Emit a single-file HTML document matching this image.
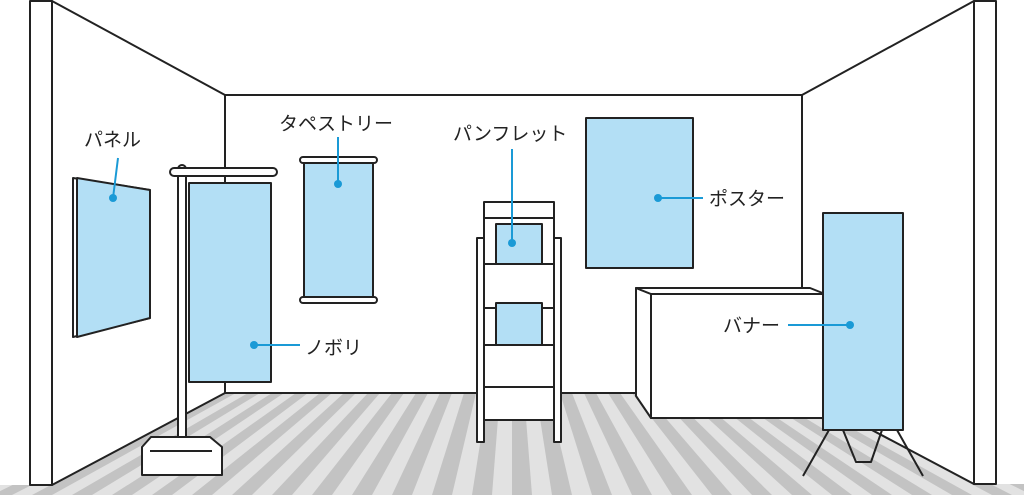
<!DOCTYPE html>
<html><head><meta charset="utf-8"><style>
html,body{margin:0;padding:0;background:#fff}
svg{display:block}
text{font-family:"Liberation Sans","Noto Sans CJK JP",sans-serif;font-size:19px;fill:#222}
</style></head><body>
<svg width="1024" height="495" viewBox="0 0 1024 495" xmlns="http://www.w3.org/2000/svg">
<defs><clipPath id="fl"><polygon points="225,393 802,393 974,484 1024,484 1024,495 0,495 0,485 52,485"/></clipPath></defs>
<rect width="1024" height="495" fill="#fff"/>
<g clip-path="url(#fl)">
<rect x="0" y="380" width="1024" height="115" fill="#e2e2e2"/>
<g fill="#c3c3c3">
<polygon points="176,393 188,393 -28,495 -48,495"/>
<polygon points="200,393 212,393 12,495 -8,495"/>
<polygon points="224,393 236,393 52,495 32,495"/>
<polygon points="248,393 260,393 92,495 72,495"/>
<polygon points="272,393 284,393 132,495 112,495"/>
<polygon points="296,393 308,393 172,495 152,495"/>
<polygon points="320,393 332,393 212,495 192,495"/>
<polygon points="344,393 356,393 252,495 232,495"/>
<polygon points="368,393 380,393 292,495 272,495"/>
<polygon points="392,393 404,393 332,495 312,495"/>
<polygon points="416,393 428,393 372,495 352,495"/>
<polygon points="440,393 452,393 412,495 392,495"/>
<polygon points="464,393 476,393 452,495 432,495"/>
<polygon points="488,393 500,393 492,495 472,495"/>
<polygon points="512,393 524,393 532,495 512,495"/>
<polygon points="536,393 548,393 572,495 552,495"/>
<polygon points="560,393 572,393 612,495 592,495"/>
<polygon points="584,393 596,393 652,495 632,495"/>
<polygon points="608,393 620,393 692,495 672,495"/>
<polygon points="632,393 644,393 732,495 712,495"/>
<polygon points="656,393 668,393 772,495 752,495"/>
<polygon points="680,393 692,393 812,495 792,495"/>
<polygon points="704,393 716,393 852,495 832,495"/>
<polygon points="728,393 740,393 892,495 872,495"/>
<polygon points="752,393 764,393 932,495 912,495"/>
<polygon points="776,393 788,393 972,495 952,495"/>
<polygon points="800,393 812,393 1012,495 992,495"/>
<polygon points="824,393 836,393 1052,495 1032,495"/>
<polygon points="848,393 860,393 1092,495 1072,495"/>
</g></g>
<g stroke="#222" stroke-width="2" fill="#fff" stroke-linejoin="round">
<polygon points="52,1 225,95 225,393 52,485"/>
<polygon points="974,1 802,95 802,393 974,484"/>
<rect x="225" y="95" width="577" height="298"/>
<rect x="30" y="1" width="22" height="484"/>
<rect x="974" y="1" width="22" height="483"/>
<polygon points="73,178 150,190 150,318 73,337"/>
<polygon points="77,178 150,190 150,318 77,337" fill="#b3dff5"/>
<rect x="304" y="162" width="69" height="136" fill="#b3dff5"/>
<rect x="300" y="157" width="77" height="6" rx="3"/>
<rect x="300" y="297" width="77" height="6" rx="3"/>
<rect x="178" y="165" width="8" height="275" rx="4"/>
<rect x="170" y="168" width="107" height="8" rx="4"/>
<rect x="189" y="183" width="82" height="199" fill="#b3dff5"/>
<polygon points="151,437 210,437 222,447 222,475 142,475 142,447"/>
<line x1="150" y1="451" x2="212" y2="451"/>
<rect x="477" y="238" width="7" height="204"/>
<rect x="554" y="238" width="7" height="204"/>
<rect x="484" y="202" width="70" height="218"/>
<line x1="484" y1="218" x2="554" y2="218"/>
<line x1="484" y1="264" x2="554" y2="264"/>
<line x1="484" y1="308" x2="554" y2="308"/>
<line x1="484" y1="345" x2="554" y2="345"/>
<line x1="484" y1="387" x2="554" y2="387"/>
<rect x="496" y="224" width="46" height="40" fill="#b3dff5"/>
<rect x="496" y="303" width="46" height="42" fill="#b3dff5"/>
<rect x="586" y="118" width="107" height="150" fill="#b3dff5"/>
<polygon points="636,288 651,294 651,418 636,396"/>
<polygon points="636,288 810,288 825,294 651,294"/>
<rect x="651" y="294" width="174" height="124"/>
<line x1="829" y1="430" x2="803" y2="476"/>
<line x1="897" y1="430" x2="923" y2="476"/>
<polyline points="843,430 856,462 871,462 882,430" fill="none"/>
<rect x="823" y="213" width="80" height="217" fill="#b3dff5"/>
</g>
<g stroke="#1a9ad6" stroke-width="2" fill="none">
<line x1="113" y1="198" x2="118" y2="158"/>
<line x1="338" y1="184" x2="338" y2="137"/>
<line x1="512" y1="243" x2="512" y2="149"/>
<line x1="658" y1="198" x2="703" y2="198"/>
<line x1="254" y1="345" x2="300" y2="345"/>
<line x1="788" y1="325" x2="850" y2="325"/>
</g>
<g fill="#1a9ad6">
<circle cx="113" cy="198" r="4"/><circle cx="338" cy="184" r="4"/><circle cx="512" cy="243" r="4"/>
<circle cx="658" cy="198" r="4"/><circle cx="254" cy="345" r="4"/><circle cx="850" cy="325" r="4"/>
</g>
<text x="84" y="146">パネル</text>
<text x="279" y="130">タペストリー</text>
<text x="453" y="140">パンフレット</text>
<text x="709" y="205">ポスター</text>
<text x="305" y="354">ノボリ</text>
<text x="723" y="332">バナー</text>
</svg>
</body></html>
